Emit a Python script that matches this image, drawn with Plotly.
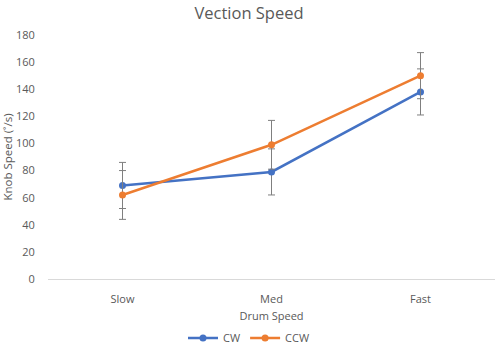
import plotly.graph_objects as go

categories = ["Slow", "Med", "Fast"]
cw_values = [69, 79, 138]
ccw_values = [62, 99, 150]
cw_err = [17, 17, 17]
ccw_err = [18, 18, 17]
y_ticks = [0, 20, 40, 60, 80, 100, 120, 140, 160, 180]

BLUE = "#4472C4"
ORANGE = "#ED7D31"
TEXT = "#595959"
FONT = "Open Sans, Liberation Sans, sans-serif"

fig = go.Figure()
fig.add_trace(go.Scatter(
    x=categories, y=cw_values, name="CW", mode="lines+markers",
    line=dict(color=BLUE, width=2.5), marker=dict(color=BLUE, size=7),
    error_y=dict(type="data", array=cw_err, color="#7f7f7f", thickness=1, width=3.5),
))
fig.add_trace(go.Scatter(
    x=categories, y=ccw_values, name="CCW", mode="lines+markers",
    line=dict(color=ORANGE, width=2.5), marker=dict(color=ORANGE, size=7),
    error_y=dict(type="data", array=ccw_err, color="#7f7f7f", thickness=1, width=3.5),
))

fig.update_layout(
    width=498, height=345,
    margin=dict(l=48, r=3, t=35, b=66),
    paper_bgcolor="white", plot_bgcolor="white",
    font=dict(family=FONT, color=TEXT, size=11),
    title=dict(text="Vection Speed", x=0.5, xanchor="center", y=1 - 13 / 345,
               yref="container", yanchor="middle", font=dict(size=16.5, color=TEXT)),
    showlegend=True,
    legend=dict(orientation="h", x=0.5, xanchor="center", xref="container",
                y=1 - 338 / 345, yref="container", yanchor="middle",
                font=dict(size=11, color=TEXT), itemwidth=30, tracegroupgap=0),
    xaxis=dict(
        type="category", range=[-0.5, 2.5], showgrid=False, zeroline=False,
        showline=True, linecolor="#d9d9d9", linewidth=1, automargin=False,
        ticks="outside", ticklen=10, tickcolor="rgba(0,0,0,0)",
        tickfont=dict(size=11, color=TEXT),
        title=dict(text="Drum Speed", font=dict(size=11, color=TEXT), standoff=9),
    ),
    yaxis=dict(
        range=[0, 180], tickvals=y_ticks, showgrid=False, zeroline=False,
        showline=False, ticks="outside", ticklen=10, tickcolor="rgba(0,0,0,0)",
        tickfont=dict(size=11, color=TEXT),
        title=dict(text="Knob Speed (˚/s)", font=dict(size=11.5, color=TEXT), standoff=4),
    ),
)

fig.write_html("out.html", config={"displayModeBar": False},
               post_script="document.body.style.margin='0';")
